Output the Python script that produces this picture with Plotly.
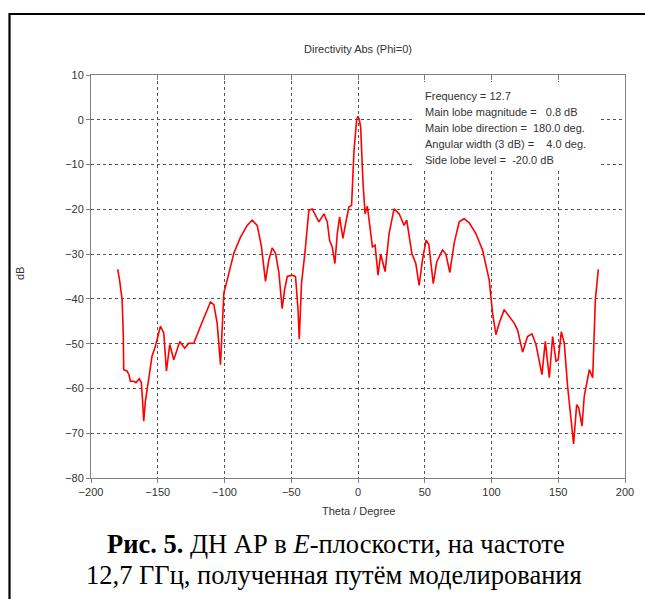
import plotly.graph_objects as go

# ---- data ----
theta = [-180, -178.5, -176.7, -175.8, -175.5, -173, -171.5, -170.5, -168, -166.3,
         -163.8, -162.3, -161.3, -160.5, -159.3, -156.8, -154.3, -151.8, -148, -145.5,
         -143.5, -141, -138, -133.5, -129.8, -126.8, -123, -118, -114.2, -110.5,
         -108, -105.5, -103, -100.5, -98, -93, -88, -83, -79.3, -75.5,
         -72.3, -69.3, -66.8, -64.3, -61.8, -59.3, -56.8, -55, -53, -49.3,
         -46.8, -45, -44, -42.3, -39.8, -36.8, -34.3, -29.3, -25.5, -23,
         -21.3, -19.3, -17.3, -15.5, -13.8, -11.3, -9.3, -6.8, -4.8, -3,
         -1, 0, 1, 2, 3.8, 5.3, 7, 8.8, 10.8, 12.8,
         15, 17, 20.3, 23.3, 27, 30.8, 34.5, 36.5, 40.3, 43.3,
         45.8, 48.3, 51, 53, 56.4, 59, 63.3, 65.8, 68.8, 72,
         75.8, 79.5, 83.3, 88.3, 93.3, 98.3, 100.8, 103.3, 105.8, 109.5,
         113.3, 117, 119.5, 123.3, 127, 130.3, 133.3, 137.8, 140.3, 143.3,
         145.8, 148.3, 150, 152.3, 154.5, 157, 161.5, 163.8, 165.3, 167.8,
         169.5, 173.3, 175.8, 177.8, 180]
directivity_db = [-33.4, -36, -40.2, -48, -55.8, -56.1, -57, -58.4, -58.4, -58.7,
                  -57.8, -58.7, -63, -67.3, -63, -58, -52.8, -50.6, -46.1, -47.6,
                  -56.1, -50.2, -53.6, -49.5, -51, -49.9, -49.9, -46.1, -43.2, -40.7,
                  -41.3, -45.4, -54.7, -38.7, -35.8, -29.8, -26.2, -23.6, -22.4, -23.6,
                  -28.4, -36.1, -31.3, -28.6, -29.8, -34, -42.2, -38, -35, -34.7,
                  -35, -42, -49, -36.5, -29.8, -20.2, -19.9, -22.8, -21, -22.8,
                  -26.9, -28.4, -32.1, -25.4, -21.7, -26.5, -23.2, -19.5, -19.1, -6.9,
                  0, 0.8, 0, -1.7, -14.3, -21, -19.3, -23.9, -28.4, -28,
                  -34.7, -30, -33.9, -25.4, -19.9, -21, -23.6, -22.4, -29.8, -32.1,
                  -37, -31.3, -26.9, -27.8, -36.6, -31.7, -29.1, -30, -34.1, -27.6,
                  -22.8, -22.1, -23, -25.4, -29.1, -35.8, -43.2, -48, -45.4, -42.4,
                  -43.9, -45.4, -46.9, -51.9, -48.4, -47.8, -50.2, -56.9, -49.5, -57.6,
                  -48.4, -53.9, -53.6, -47.3, -49.9, -59.5, -72.4, -63.6, -64.3, -68.4,
                  -61.7, -55.8, -57.6, -40.2, -33.4]

x_ticks = [-200, -150, -100, -50, 0, 50, 100, 150, 200]
y_ticks = [10, 0, -10, -20, -30, -40, -50, -60, -70, -80]

info_lines = [
    "Frequency = 12.7",
    "Main lobe magnitude =\u00a0\u00a0\u00a00.8 dB",
    "Main lobe direction =\u00a0\u00a0180.0 deg.",
    "Angular width (3 dB) =\u00a0\u00a0\u00a0\u00a04.0 deg.",
    "Side lobe level =\u00a0\u00a0-20.0 dB",
]
caption_line1 = "<b>Рис. 5.</b> ДН АР в <i>E</i>-плоскости, на частоте"
caption_line2 = "12,7 ГГц, полученная путём моделирования"

# ---- layout geometry (pixels) ----
W, H = 645, 599
L, R, T, B = 91, 625, 75, 478
pw, ph = R - L, B - T


def px(xp):
    return (xp - L) / pw


def py(yp):
    return (B - yp) / ph


FONT = "Liberation Sans"
TXT = "#333333"
AX = "#808080"
GRID = "#555555"

fig = go.Figure()
fig.add_trace(go.Scatter(x=theta, y=directivity_db, mode="lines",
                         line=dict(color="#ff0000", width=1.6),
                         showlegend=False, hoverinfo="x+y"))
# invisible copy to carry the top (inside-tick) axis
fig.add_trace(go.Scatter(x=theta, y=directivity_db, mode="lines", xaxis="x2",
                         line=dict(color="rgba(0,0,0,0)", width=0),
                         showlegend=False, hoverinfo="skip"))

axis_common = dict(showline=True, linecolor=AX, linewidth=1, mirror=True,
                   showgrid=True, gridcolor=GRID, griddash="dot", gridwidth=1,
                   zeroline=False, ticks="outside", ticklen=4, tickcolor=AX,
                   tickfont=dict(family=FONT, size=11, color=TXT))

fig.update_layout(
    width=W, height=H,
    margin=dict(l=L, r=W - R, t=T, b=H - B),
    paper_bgcolor="white", plot_bgcolor="white",
    title=dict(text="Directivity Abs (Phi=0)", x=0.5, xref="paper", xanchor="center",
               y=1 - 49 / H, yref="container", yanchor="middle",
               font=dict(family=FONT, size=11, color=TXT)),
    xaxis=dict(range=[-200, 200], tickvals=x_ticks, **axis_common),
    xaxis2=dict(range=[-200, 200], tickvals=x_ticks, overlaying="x", side="top",
                showticklabels=False, ticks="inside", ticklen=5, tickcolor=AX,
                showgrid=False, zeroline=False, showline=False),
    yaxis=dict(range=[-80, 10], tickvals=y_ticks, **axis_common),
    showlegend=False,
)

shapes = [
    # white box behind the info text
    dict(type="rect", xref="paper", yref="paper", x0=px(413), x1=px(599),
         y0=py(171), y1=py(82), fillcolor="white", line=dict(width=0), layer="above"),
    # outer black frame
    dict(type="rect", xref="paper", yref="paper", x0=px(9.5), x1=px(660),
         y0=py(620), y1=py(14), line=dict(color="black", width=2.2), layer="above"),
]
fig.update_layout(shapes=shapes)

annotations = []
for i, line in enumerate(info_lines):
    annotations.append(dict(text=line, xref="paper", yref="paper", x=px(423),
                            y=py(96 + 16 * i), xanchor="left", yanchor="middle",
                            showarrow=False, align="left",
                            font=dict(family=FONT, size=11, color=TXT)))
annotations.append(dict(text="dB", xref="paper", yref="paper", x=px(20), y=py(274),
                        textangle=-90, showarrow=False, xanchor="center", yanchor="middle",
                        font=dict(family=FONT, size=11, color=TXT)))
annotations.append(dict(text="Theta / Degree", xref="paper", yref="paper", x=0.5, y=py(511),
                        showarrow=False, xanchor="center", yanchor="middle",
                        font=dict(family=FONT, size=11, color=TXT)))
annotations.append(dict(text=caption_line1, xref="paper", yref="paper", x=px(336), y=py(544),
                        showarrow=False, xanchor="center", yanchor="middle",
                        font=dict(family="Liberation Serif", size=26.5, color="black")))
annotations.append(dict(text=caption_line2, xref="paper", yref="paper", x=px(334), y=py(575),
                        showarrow=False, xanchor="center", yanchor="middle",
                        font=dict(family="Liberation Serif", size=26.5, color="black")))
fig.update_layout(annotations=annotations)

fig.write_html("out.html",
               config={"displayModeBar": False},
               post_script="document.body.style.margin='0';document.body.style.overflow='hidden';")
